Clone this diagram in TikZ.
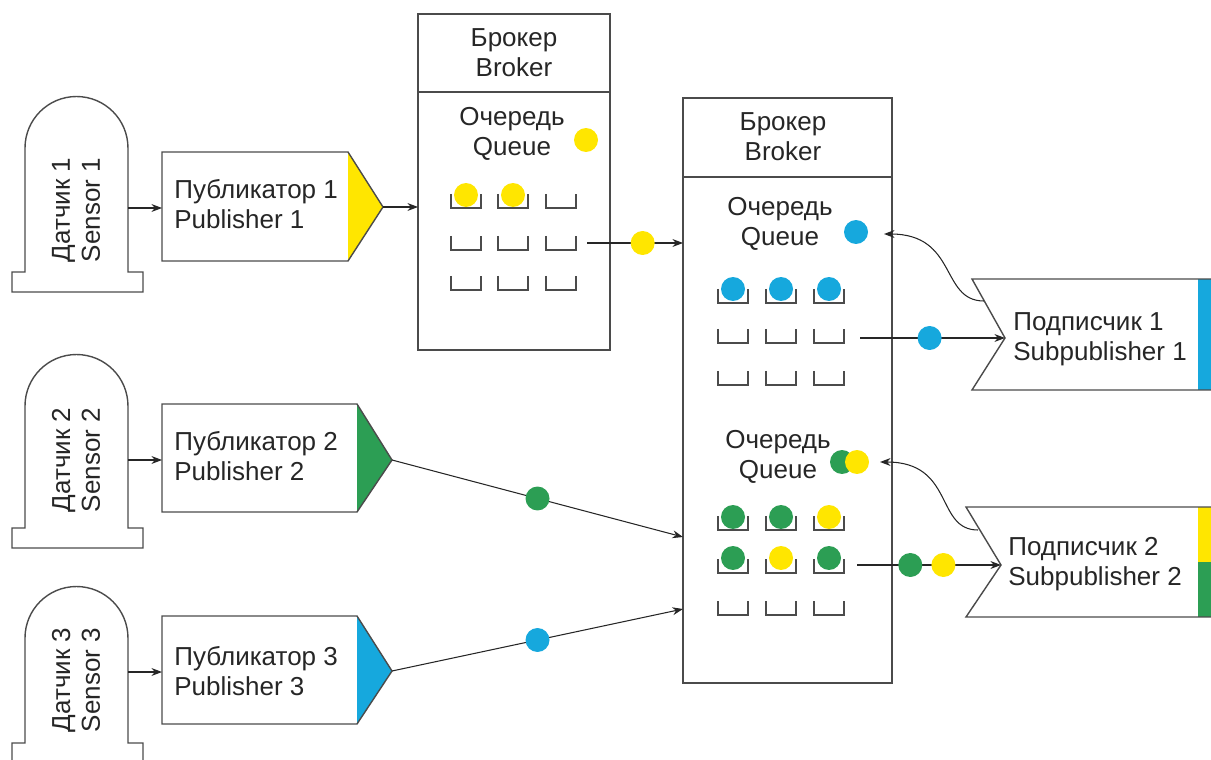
\documentclass[tikz,border=0pt]{standalone}
\usepackage{fontspec}
\setmainfont{Liberation Sans}
\usetikzlibrary{arrows.meta}
\definecolor{dotyellow}{RGB}{255,230,0}
\definecolor{dotgreen}{RGB}{44,158,84}
\definecolor{dotblue}{RGB}{22,168,221}
\definecolor{edge}{RGB}{75,75,75}
\begin{document}
\begin{tikzpicture}[x=0.02cm, y=-0.02cm,
        every node/.style={font=\fontsize{14.8}{17}\selectfont, text=black!85},
        shapeline/.style={draw=edge, line width=0.8pt},
        boxtext/.style={align=center, inner sep=0pt},
        subtext/.style={align=left, anchor=west, inner sep=0pt},
        msg/.style={circle, inner sep=0pt, minimum size=0.48cm},
        link/.style={-{Stealth[length=6pt, width=4.5pt]}, line width=0.6pt, draw=black!85},
        qslot/.pic={\draw[draw=edge, line width=0.7pt] (-15,-14) -- (-15,0) -- (15,0) -- (15,-14);}]
        \useasboundingbox (0,0) rectangle (1211,760);

        % sensors
        \draw[shapeline] (25,272) -- (25,148) arc[start angle=180, end angle=0, radius=1.03cm] -- (128,272) -- (143,272) -- (143,292) -- (12,292) -- (12,272) -- cycle;
        \draw[shapeline] (25,528) -- (25,406) arc[start angle=180, end angle=0, radius=1.03cm] -- (128,528) -- (143,528) -- (143,548) -- (12,548) -- (12,528) -- cycle;
        \draw[shapeline] (25,743) -- (25,638) arc[start angle=180, end angle=0, radius=1.03cm] -- (128,743) -- (143,743) -- (143,763) -- (12,763) -- (12,743) -- cycle;
        \node (sens1) at (76,210) [rotate=90, boxtext] {Датчик 1\\Sensor 1};
        \node (sens2) at (76,460) [rotate=90, boxtext] {Датчик 2\\Sensor 2};
        \node (sens3) at (76,680) [rotate=90, boxtext] {Датчик 3\\Sensor 3};
        \coordinate (sens1out) at (128,208);
        \coordinate (sens2out) at (128,460);
        \coordinate (sens3out) at (128,672);

        % publishers
        \fill[dotyellow] (348,152) -- (383,207) -- (348,261) -- cycle;
        \draw[shapeline] (162,152) -- (348,152) -- (383,207) -- (348,261) -- (162,261) -- cycle;
        \fill[dotgreen] (357,404) -- (392,460) -- (357,512) -- cycle;
        \draw[shapeline] (162,404) -- (357,404) -- (392,460) -- (357,512) -- (162,512) -- cycle;
        \fill[dotblue] (357,616) -- (392,671) -- (357,724) -- cycle;
        \draw[shapeline] (162,616) -- (357,616) -- (392,671) -- (357,724) -- (162,724) -- cycle;
        \node (pub1) at (174,204) [subtext] {Публикатор 1\\Publisher 1};
        \node (pub2) at (174,456) [subtext] {Публикатор 2\\Publisher 2};
        \node (pub3) at (174,671) [subtext] {Публикатор 3\\Publisher 3};
        \coordinate (pub1in) at (162,208);
        \coordinate (pub2in) at (162,460);
        \coordinate (pub3in) at (162,672);
        \coordinate (pub1out) at (383,207);
        \coordinate (pub2out) at (392,460);
        \coordinate (pub3out) at (392,671);

        % broker 1
        \draw[shapeline] (418,14) rectangle (610,350);
        \draw[shapeline] (418,92) -- (610,92);
        \node (brk1) at (514,53) [boxtext] {Брокер\\Broker};
        \node (queue1) at (512,134) [boxtext] {Очередь\\Queue};
        \node (m1) at (586,140) [msg, fill=dotyellow] {};
        \foreach \x in {466,513,561}
            \foreach \y in {208,250,290}
                \pic at (\x,\y) {qslot};
        \node (m2) at (466,195) [msg, fill=dotyellow] {};
        \node (m3) at (513,195) [msg, fill=dotyellow] {};
        \coordinate (brk1in) at (418,207);
        \coordinate (brk1out) at (587,243);

        % broker 2
        \draw[shapeline] (683,98) rectangle (892,683);
        \draw[shapeline] (683,177) -- (892,177);
        \node (brk2) at (783,137) [boxtext] {Брокер\\Broker};
        \node (queue2) at (780,224) [boxtext] {Очередь\\Queue};
        \node (queue3) at (778,457) [boxtext] {Очередь\\Queue};
        \node (m4) at (856,232) [msg, fill=dotblue] {};
        \node (m5) at (842,462) [msg, fill=dotgreen] {};
        \node (m6) at (857,462) [msg, fill=dotyellow] {};
        \foreach \x in {733,781,829}
            \foreach \y in {303,343,385,530,573,615}
                \pic at (\x,\y) {qslot};
        \node (m7) at (733,289) [msg, fill=dotblue] {};
        \node (m8) at (781,289) [msg, fill=dotblue] {};
        \node (m9) at (829,289) [msg, fill=dotblue] {};
        \node (m10) at (733,517) [msg, fill=dotgreen] {};
        \node (m11) at (781,517) [msg, fill=dotgreen] {};
        \node (m12) at (829,517) [msg, fill=dotyellow] {};
        \node (m13) at (733,558) [msg, fill=dotgreen] {};
        \node (m14) at (781,558) [msg, fill=dotyellow] {};
        \node (m15) at (829,558) [msg, fill=dotgreen] {};
        \coordinate (brk2in1) at (683,243);
        \coordinate (brk2in2) at (683,537);
        \coordinate (brk2in3) at (683,609);
        \coordinate (queue2out) at (860,338);
        \coordinate (queue3out) at (857,565);
        \coordinate (queue2back) at (884,234);
        \coordinate (queue3back) at (880,462);

        % subscribers
        \fill[dotblue] (1198,279) rectangle (1211,390);
        \draw[shapeline] (1211,279) -- (972,279) -- (1005,338) -- (972,390) -- (1211,390);
        \fill[dotyellow] (1198,507) rectangle (1211,562);
        \fill[dotgreen] (1198,562) rectangle (1211,617);
        \draw[shapeline] (1211,507) -- (966,507) -- (1001,565) -- (966,617) -- (1211,617);
        \node (sub1) at (1013,339) [subtext] {Подписчик 1\\Subpublisher 1};
        \node (sub2) at (1008,564) [subtext] {Подписчик 2\\Subpublisher 2};
        \coordinate (sub1in) at (1005,338);
        \coordinate (sub2in) at (1001,565);
        \coordinate (sub1back) at (984,301);
        \coordinate (sub2back) at (978,530);

        % connectors
        \draw[link] (sens1out) -- (pub1in);
        \draw[link] (sens2out) -- (pub2in);
        \draw[link] (sens3out) -- (pub3in);
        \draw[link] (pub1out) -- (brk1in);
        \draw[link] (brk1out) -- node[msg, fill=dotyellow, pos=0.58] (m16) {} (brk2in1);
        \draw[link] (pub2out) -- node[msg, fill=dotgreen, pos=0.5] (m17) {} (brk2in2);
        \draw[link] (pub3out) -- node[msg, fill=dotblue, pos=0.5] (m18) {} (brk2in3);
        \draw[link] (queue2out) -- node[msg, fill=dotblue, pos=0.48] (m19) {} (sub1in);
        \draw[link] (queue3out) -- node[msg, fill=dotgreen, pos=0.37] (m20) {} node[msg, fill=dotyellow, pos=0.6] (m21) {} (sub2in);
        \draw[link] (sub1back) .. controls (940,301) and (958,234) .. (queue2back);
        \draw[link] (sub2back) .. controls (935,530) and (955,462) .. (queue3back);
    \end{tikzpicture}
\end{document}
